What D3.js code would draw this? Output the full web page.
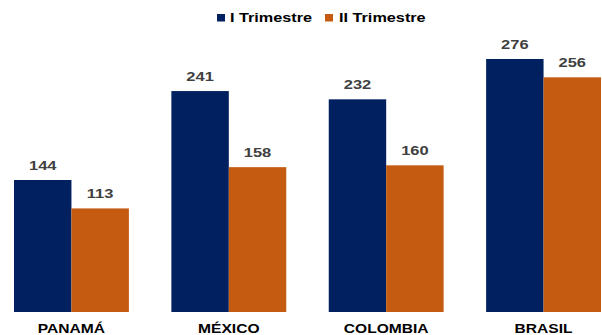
<!DOCTYPE html>
<html><head><meta charset="utf-8">
<script src="https://cdn.jsdelivr.net/npm/d3@7"></script>
<style>body{margin:0;background:#fff}svg{display:block;font-family:"Liberation Sans",Arial,sans-serif}</style>
</head><body><svg id="c" width="602" height="335"></svg>
<script>
const categories = ["PANAMÁ","MÉXICO","COLOMBIA","BRASIL"];
const seriesNames = ["I Trimestre","II Trimestre"];
const s1 = [144,241,232,276];
const s2 = [113,158,160,256];
const colors = ["#002060","#C55A11"];

const svg = d3.select("#c");
const baseY = 312;
const x = d3.scaleBand().domain(categories).range([14,601]).paddingInner(0.27).paddingOuter(0);
const xi = d3.scaleBand().domain([0,1]).range([0,x.bandwidth()]);
const y = d3.scaleLinear().domain([0,300]).range([baseY, baseY-300*0.9167]);

const data = categories.map((c,i)=>({c, v:[s1[i],s2[i]]}));
const g = svg.selectAll("g.grp").data(data).join("g").attr("transform",d=>`translate(${x(d.c)},0)`);
g.selectAll("rect").data(d=>d.v.map((v,k)=>({v,k}))).join("rect")
  .attr("x",d=>xi(d.k)).attr("width",xi.bandwidth())
  .attr("y",d=>y(d.v)).attr("height",d=>baseY-y(d.v))
  .attr("fill",d=>colors[d.k]);
g.selectAll("text.val").data(d=>d.v.map((v,k)=>({v,k}))).join("text").attr("class","val")
  .attr("transform",d=>`translate(${xi(d.k)+xi.bandwidth()/2},${y(d.v)-10}) scale(1.32,1)`)
  .attr("text-anchor","middle").attr("font-size",12.5).attr("font-weight","bold").attr("fill","#404040")
  .text(d=>d.v);
g.append("text").attr("transform",`translate(${x.bandwidth()/2},333) scale(1.2,1)`).attr("text-anchor","middle")
  .attr("font-size",13).attr("font-weight","bold").attr("fill","#000").text(d=>d.c);

// legend
const leg = [{x:217,tx:230},{x:325,tx:339}];
seriesNames.forEach((n,i)=>{
  svg.append("rect").attr("x",leg[i].x).attr("y",14).attr("width",8).attr("height",7.5).attr("fill",colors[i]);
  svg.append("text").attr("transform",`translate(${leg[i].tx},22) scale(1.3,1)`).attr("font-size",12.5).attr("font-weight","bold").attr("fill","#000").text(n);
});
</script></body></html>
